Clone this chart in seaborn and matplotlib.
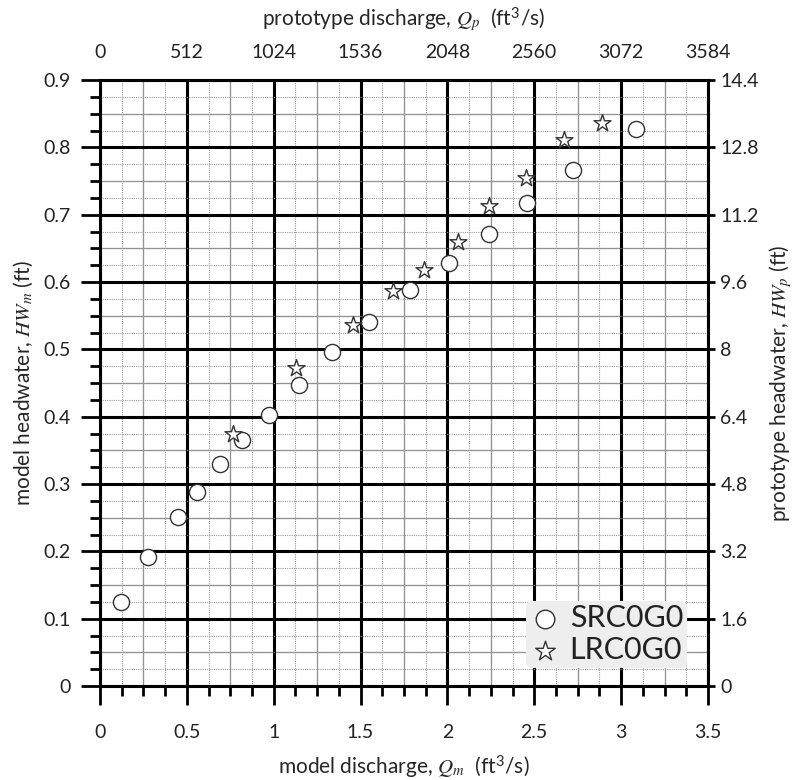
import numpy as np
import pandas as pd
import matplotlib
matplotlib.use("Agg")
import matplotlib.pyplot as plt
import seaborn as sns
from matplotlib.ticker import FixedLocator, MultipleLocator, NullFormatter

# Model runs: discharge Q_m (ft^3/s) vs. headwater HW_m (ft)
src_q = [0.12, 0.274, 0.447, 0.556, 0.691, 0.819, 0.975, 1.146, 1.337, 1.547,
         1.785, 2.009, 2.237, 2.456, 2.725, 3.084]
src_hw = [0.125, 0.192, 0.251, 0.288, 0.329, 0.365, 0.403, 0.447, 0.496, 0.541,
          0.588, 0.628, 0.672, 0.717, 0.766, 0.827]
lrc_q = [0.763, 1.128, 1.459, 1.687, 1.865, 2.061, 2.24, 2.45, 2.673, 2.892]
lrc_hw = [0.375, 0.472, 0.536, 0.587, 0.618, 0.659, 0.713, 0.754, 0.811, 0.836]
series_names = ["SRC0G0", "LRC0G0"]

# Froude similitude, length scale 1:16
length_scale = 16
discharge_scale = length_scale ** 2.5

x_ticks = [0, 0.5, 1, 1.5, 2, 2.5, 3, 3.5]
x_tick_labels = ["0", "0.5", "1", "1.5", "2", "2.5", "3", "3.5"]
y_ticks = [0, 0.1, 0.2, 0.3, 0.4, 0.5, 0.6, 0.7, 0.8, 0.9]
y_tick_labels = ["0", "0.1", "0.2", "0.3", "0.4", "0.5", "0.6", "0.7", "0.8", "0.9"]
top_ticks = [0, 512, 1024, 1536, 2048, 2560, 3072, 3584]
right_ticks = [0, 1.6, 3.2, 4.8, 6.4, 8, 9.6, 11.2, 12.8, 14.4]
right_tick_labels = ["0", "1.6", "3.2", "4.8", "6.4", "8", "9.6", "11.2", "12.8", "14.4"]

df = pd.concat([
    pd.DataFrame({"Qm": src_q, "HWm": src_hw, "series": series_names[0]}),
    pd.DataFrame({"Qm": lrc_q, "HWm": lrc_hw, "series": series_names[1]}),
])

sns.set_theme(style="white")
plt.rcParams["font.family"] = ["Lato", "DejaVu Sans"]
plt.rcParams["mathtext.fontset"] = "custom"
plt.rcParams["mathtext.it"] = "STIXGeneral:italic"
plt.rcParams["mathtext.rm"] = "Lato"
plt.rcParams["text.color"] = "#222222"

fig = plt.figure(figsize=(7.96, 7.8), dpi=100)
ax = fig.add_axes([0.1256, 0.1205, 0.8894 - 0.1256, 0.8974 - 0.1205])

markers = {"SRC0G0": "o", "LRC0G0": "*"}
sizes = {"SRC0G0": 135, "LRC0G0": 165}
for name in series_names:
    sub = df[df["series"] == name]
    sns.scatterplot(data=sub, x="Qm", y="HWm", ax=ax, marker=markers[name],
                    s=sizes[name], facecolor="white", edgecolor="#333333",
                    linewidth=1.0, label=name, zorder=5)

ax.set_xlim(0, 3.5)
ax.set_ylim(0, 0.9)

ax.xaxis.set_major_locator(FixedLocator(x_ticks))
ax.set_xticklabels(x_tick_labels)
ax.yaxis.set_major_locator(FixedLocator(y_ticks))
ax.set_yticklabels(y_tick_labels)
ax.xaxis.set_minor_locator(MultipleLocator(0.125))
ax.yaxis.set_minor_locator(MultipleLocator(0.025))
ax.xaxis.set_minor_formatter(NullFormatter())
ax.yaxis.set_minor_formatter(NullFormatter())

# grid: dotted fine lines, solid gray mid lines, heavy black major lines
ax.grid(which="minor", color="#9a9a9a", linestyle=(0, (1, 1)), linewidth=0.8, zorder=0)
for xv in np.arange(0.25, 3.5, 0.5):
    ax.axvline(xv, color="#8c8c8c", linewidth=0.9, zorder=0.5)
for yv in np.arange(0.05, 0.9, 0.1):
    ax.axhline(yv, color="#8c8c8c", linewidth=0.9, zorder=0.5)
ax.grid(which="major", color="black", linewidth=2.2, zorder=1)
ax.set_axisbelow(True)

for sp in ax.spines.values():
    sp.set_visible(True)
    sp.set_color("black")
    sp.set_linewidth(2.2)

ax.tick_params(which="major", direction="out", length=14, width=2.0, color="black",
               labelsize=14, labelcolor="#222222")
ax.tick_params(axis="x", which="major", pad=13)
ax.tick_params(axis="y", which="major", pad=7)
ax.tick_params(which="minor", direction="out", length=7, width=2.0, color="black")
ax.tick_params(bottom=True, left=True, which="both")

ax.set_xlabel(r"model discharge, $Q_m$  (ft$^{3}$/s)", fontsize=15, labelpad=9)
ax.set_ylabel(r"model headwater, $HW_m$ (ft)", fontsize=15, labelpad=6)

top = ax.secondary_xaxis("top", functions=(lambda q: q * discharge_scale,
                                           lambda q: q / discharge_scale))
top.set_xticks(top_ticks)
top.set_xticklabels([str(t) for t in top_ticks])
top.tick_params(length=0, pad=14, labelsize=14, labelcolor="#222222")
top.set_xlabel(r"prototype discharge, $Q_p$  (ft$^{3}$/s)", fontsize=15, labelpad=13)

right = ax.secondary_yaxis("right", functions=(lambda h: h * length_scale,
                                               lambda h: h / length_scale))
right.set_yticks(right_ticks)
right.set_yticklabels(right_tick_labels)
right.tick_params(length=5, width=2.0, color="black", pad=4,
                  labelsize=14, labelcolor="#222222")
right.set_ylabel(r"prototype headwater, $HW_p$ (ft)", fontsize=15, labelpad=6)

leg = ax.legend(loc="lower right", bbox_to_anchor=(0.965, 0.03), fontsize=22,
                frameon=True, facecolor="#eeeeee", edgecolor="none", framealpha=1,
                handletextpad=0.3, borderpad=0.12, labelspacing=0.12,
                handlelength=1.0, markerscale=1.15, borderaxespad=0)
leg.set_zorder(10)
for t in leg.get_texts():
    t.set_color("#222222")

fig.savefig("out.png", dpi=100)
